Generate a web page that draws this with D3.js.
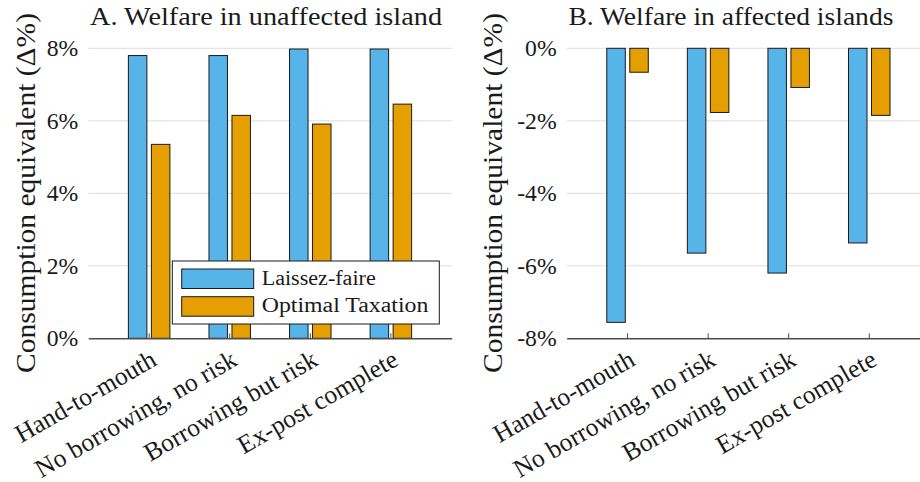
<!DOCTYPE html>
<html><head><meta charset="utf-8">
<script src="https://cdn.jsdelivr.net/npm/d3@7"></script>
<style>
body{margin:0;background:#fff}
svg{display:block}
</style>
</head><body>
<svg id="c" width="920" height="482"></svg>
<script>
const categories = ["Hand-to-mouth", "No borrowing, no risk", "Borrowing but risk", "Ex-post complete"];
const seriesNames = ["Laissez-faire", "Optimal Taxation"];
const unaffectedLaissez = [7.80, 7.80, 7.98, 7.98];
const unaffectedOptimal = [5.35, 6.15, 5.91, 6.46];
const affectedLaissez = [-7.56, -5.65, -6.20, -5.37];
const affectedOptimal = [-0.66, -1.77, -1.08, -1.85];
const ticksA = [0, 2, 4, 6, 8];
const ticksB = [-8, -6, -4, -2, 0];
const titles = ["A. Welfare in unaffected island", "B. Welfare in affected islands"];
const yLabel = "Consumption equivalent (Δ%)";
const colors = ["#56B4E9", "#E69F00"];

const FONT = "Liberation Serif, DejaVu Serif, Noto Serif, Tinos, Nimbus Roman, FreeSerif, Times New Roman, Times, serif";
const svg = d3.select("#c");
const yTop = 48.3, yBottom = 338.3;

function fitSize(sel, target, base) {
  sel.attr("font-size", base);
  const L = sel.node().getComputedTextLength();
  if (L > 0) sel.attr("font-size", base * target / L);
}

const panels = [
  {x0: 88.3, x1: 451.7, domain: [0, 8], ticks: ticksA, data: [unaffectedLaissez, unaffectedOptimal],
   title: titles[0], titleLen: 352, ylabX: 35, legend: true},
  {x0: 566.7, x1: 930.1, domain: [-8, 0], ticks: ticksB, data: [affectedLaissez, affectedOptimal],
   title: titles[1], titleLen: 325, ylabX: 502, legend: false}
];

panels.forEach(p => {
  const g = svg.append("g").attr("font-family", FONT).attr("fill", "#1a1a1a");
  const x = d3.scaleBand().domain(categories).range([p.x0, p.x1]).paddingInner(0).paddingOuter(0.255);
  const step = x.step();
  const xs = d3.scaleBand().domain(seriesNames).range([-0.2575 * step, 0.2575 * step]).paddingInner(0.196);
  const y = d3.scaleLinear().domain(p.domain).range([yBottom, yTop]);

  g.append("g").selectAll("line").data(p.ticks).join("line")
    .attr("x1", p.x0).attr("x2", p.x1)
    .attr("y1", d => y(d)).attr("y2", d => y(d))
    .attr("stroke", "#dedede").attr("stroke-width", 1);

  const probe = g.append("text").text("8%");
  fitSize(probe, 31.6, 24);
  const tickSize = +probe.attr("font-size");
  probe.remove();
  g.append("g").selectAll("text").data(p.ticks).join("text")
    .attr("x", p.x0 - 10).attr("y", d => y(d)).attr("dy", "0.34em")
    .attr("text-anchor", "end").attr("font-size", tickSize)
    .text(d => d + "%");

  seriesNames.forEach((s, si) => {
    g.append("g").selectAll("rect").data(p.data[si]).join("rect")
      .attr("x", (d, i) => x(categories[i]) + step / 2 + xs(s))
      .attr("width", xs.bandwidth())
      .attr("y", d => Math.min(y(d), y(0)))
      .attr("height", d => Math.abs(y(d) - y(0)))
      .attr("fill", colors[si])
      .attr("stroke", "#1a1a1a").attr("stroke-width", 1);
  });

  const ax = g.append("g").attr("transform", `translate(0,${yBottom})`)
    .call(d3.axisBottom(x).tickSizeInner(-5).tickSizeOuter(0));
  ax.attr("font-family", FONT);
  ax.select(".domain").attr("stroke", "#4d4d4d").attr("stroke-width", 1.4);
  ax.selectAll(".tick line").attr("stroke", "#4d4d4d");
  const catProbe = g.append("text").text(categories[1]);
  fitSize(catProbe, 228, 26);
  const catSize = +catProbe.attr("font-size");
  catProbe.remove();
  ax.selectAll(".tick text")
    .attr("y", null).attr("dy", null)
    .attr("transform", "translate(9,26) rotate(-30)")
    .attr("text-anchor", "end")
    .attr("font-size", catSize)
    .attr("fill", "#1a1a1a");

  g.append("text").attr("x", p.x0 + 1.7).attr("y", 25)
    .attr("font-size", 26).attr("textLength", p.titleLen).attr("lengthAdjust", "spacingAndGlyphs")
    .text(p.title);

  g.append("text").attr("transform", `translate(${p.ylabX},193) rotate(-90)`)
    .attr("text-anchor", "middle").attr("font-size", 27)
    .attr("textLength", 360).attr("lengthAdjust", "spacingAndGlyphs")
    .text(yLabel);

  if (p.legend) {
    const lg = g.append("g");
    lg.append("rect").attr("x", 172.3).attr("y", 261).attr("width", 267).attr("height", 63)
      .attr("fill", "#fff").attr("stroke", "#1a1a1a").attr("stroke-width", 1);
    const lens = [114, 166.7];
    seriesNames.forEach((s, si) => {
      lg.append("rect").attr("x", 181.7).attr("y", 269 + si * 27.7).attr("width", 72).attr("height", 19.5)
        .attr("fill", colors[si]).attr("stroke", "#1a1a1a").attr("stroke-width", 1);
      lg.append("text").attr("x", 261.7).attr("y", 285 + si * 26.5)
        .attr("font-size", 20).attr("textLength", lens[si]).attr("lengthAdjust", "spacingAndGlyphs")
        .text(s);
    });
  }
});
</script>
</body></html>
